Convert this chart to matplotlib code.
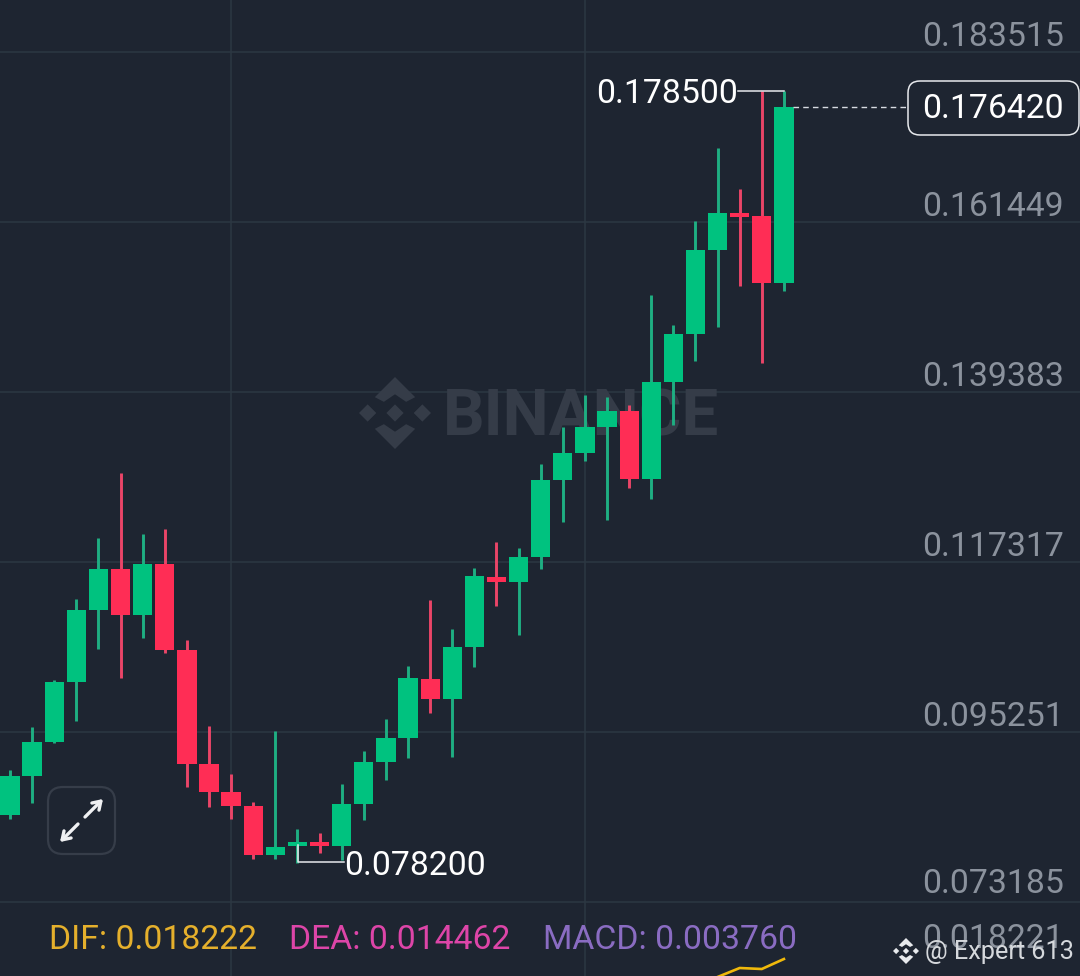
import matplotlib
matplotlib.use('Agg')
import matplotlib.pyplot as plt
from matplotlib.patches import FancyBboxPatch, Polygon

# candle values
opens = [0.08448, 0.08954, 0.09395, 0.10174, 0.11109, 0.11641, 0.11044, 0.11706, 0.10590, 0.09110,
         0.08746, 0.08565, 0.07929, 0.08039, 0.08097, 0.08045, 0.08591, 0.09136, 0.09447, 0.10213,
         0.09953, 0.10628, 0.11537, 0.11472, 0.11797, 0.12796, 0.13147, 0.13484, 0.13692, 0.12809,
         0.14068, 0.14691, 0.15782, 0.16262, 0.16223, 0.15353]
highs = [0.09032, 0.09590, 0.10200, 0.11251, 0.12043, 0.12887, 0.12095, 0.12160, 0.10719, 0.09603,
         0.08980, 0.08617, 0.09538, 0.08266, 0.08214, 0.08850, 0.09278, 0.09694, 0.10382, 0.11239,
         0.10862, 0.11654, 0.11991, 0.11913, 0.13004, 0.13484, 0.13899, 0.13873, 0.13770, 0.15197,
         0.14808, 0.16158, 0.17105, 0.16573, 0.17850, 0.17850]
lows = [0.08396, 0.08604, 0.09382, 0.09668, 0.10603, 0.10226, 0.10745, 0.10551, 0.08811, 0.08552,
        0.08396, 0.07877, 0.07877, 0.07820, 0.07955, 0.07864, 0.08383, 0.08902, 0.09188, 0.09772,
        0.09201, 0.10369, 0.11161, 0.10784, 0.11641, 0.12251, 0.13043, 0.12277, 0.12692, 0.12550,
        0.13510, 0.14341, 0.14782, 0.15314, 0.14315, 0.15249]
closes = [0.08954, 0.09395, 0.10174, 0.11109, 0.11641, 0.11044, 0.11706, 0.10590, 0.09110, 0.08746,
          0.08565, 0.07929, 0.08032, 0.08097, 0.08039, 0.08591, 0.09136, 0.09447, 0.10226, 0.09953,
          0.10628, 0.11550, 0.11472, 0.11797, 0.12796, 0.13147, 0.13484, 0.13692, 0.12809, 0.14068,
          0.14691, 0.15782, 0.16262, 0.16216, 0.15353, 0.17642]

# DIF line in the lower panel, last four candles
dif_index = [32, 33, 34, 35]
dif_values = [0.016422, 0.017322, 0.017222, 0.018222]

price_ticks = [0.183515, 0.161449, 0.139383, 0.117317, 0.095251, 0.073185]
price_labels = ['0.183515', '0.161449', '0.139383', '0.117317', '0.095251', '0.073185']
grid_candles = [10, 26]

bg = '#1e2531'
grid = '#2c3843'
up = '#00c27f'
down = '#ff2d55'
up_wick = '#1fae82'
down_wick = '#ea4568'
gray = '#8b929d'
font = 'Roboto'
size = 24.3


def logo(ax, cx, cy, r, color):
    # the diamond mark, r is half the width in pixels
    d = 0.24
    for mx in [-0.76, 0, 0.76]:
        pts = [(mx, -d), (mx + d, 0), (mx, d), (mx - d, 0)]
        ax.add_patch(Polygon([(cx + a * r, cy + b * r) for a, b in pts], fc=color, ec='none'))
    for s in [-1, 1]:
        pts = [(0, -1), (0.56, -0.44), (0.31, -0.31), (0, -0.52), (-0.31, -0.31), (-0.56, -0.44)]
        ax.add_patch(Polygon([(cx + a * r, cy + s * b * r) for a, b in pts], fc=color, ec='none'))


fig = plt.figure(figsize=(10.8, 9.76), dpi=100, facecolor=bg)

# candle panel, whole figure, scale set from the gridlines
ax = fig.add_axes([0, 0, 1, 1], facecolor=bg)
ax.set_xlim(-0.452, 48.39)
ax.set_ylim(0.06358, 0.190265)
ax.axis('off')

for t in price_ticks:
    ax.axhline(t, color=grid, lw=1.1, zorder=1)
for c in grid_candles:
    ax.axvline(c, color=grid, lw=1.1, zorder=1)

# watermark sits behind the candles
ax.text(0.4105, 0.5717, 'BINANCE', transform=ax.transAxes, color='#353c48', fontsize=47,
        fontweight='bold', family=font, ha='left', va='center', zorder=2)

for i in range(len(opens)):
    rising = closes[i] >= opens[i]
    body = up if rising else down
    wick = up_wick if rising else down_wick
    ax.vlines(i, lows[i], highs[i], color=wick, lw=2.1, zorder=3)
    ax.bar(i, abs(closes[i] - opens[i]), bottom=min(opens[i], closes[i]), width=0.87,
           color=body, lw=0, zorder=4)

# lower panel
ax2 = fig.add_axes([0, 0, 1, 74 / 976], facecolor='none')
ax2.set_xlim(-0.452, 48.39)
ax2.set_ylim(0.016522, 0.023922)
ax2.axis('off')
ax2.plot(dif_index, dif_values, color='#f0b90b', lw=1.9)

# top layer in pixel coordinates for the labels
over = fig.add_axes([0, 0, 1, 1], facecolor='none')
over.set_xlim(0, 1080)
over.set_ylim(976, 0)
over.axis('off')

# watermark logo
logo(over, 395, 413, 36, '#353c48')

# price labels
label_y = [37, 207, 377, 547, 717, 884]
for y, s in zip(label_y, price_labels):
    over.text(1064, y, s, color=gray, fontsize=size, family=font, ha='right', va='center')
over.text(1064, 939, '0.018221', color=gray, fontsize=size, family=font, ha='right', va='center')

# last price box
over.plot([793, 908], [107, 107], color='#d8dce2', lw=1, dashes=(4, 3))
over.add_patch(FancyBboxPatch((908, 81), 171, 54, boxstyle='round,pad=0,rounding_size=12',
                              fc=bg, ec='#e8eaed', lw=1.1))
over.text(1064, 109, '0.176420', color='white', fontsize=size, family=font, ha='right', va='center')

# high and low markers
over.plot([738, 784], [91, 91], color='#e8eaed', lw=1.1)
over.text(738, 94, '0.178500', color='white', fontsize=size, family=font, ha='right', va='center')
over.plot([298, 298, 344], [845, 862, 862], color='#e8eaed', lw=1.1)
over.text(344, 866, '0.078200', color='white', fontsize=size, family=font, ha='left', va='center')

# indicator legend
over.text(49, 940, 'DIF: 0.018222', color='#e5b02c', fontsize=size, family=font, ha='left', va='center')
over.text(289, 940, 'DEA: 0.014462', color='#dd45a8', fontsize=size, family=font, ha='left', va='center')
over.text(543, 940, 'MACD: 0.003760', color='#8a6cc2', fontsize=size, family=font, ha='left', va='center')

# footer
logo(over, 906, 951, 13, '#e8eaed')
over.text(925, 952, '@ Expert 613', color='#d5d8dc', fontsize=18.2, family=font, ha='left', va='center')

# expand button
over.add_patch(FancyBboxPatch((48, 787), 67, 67, boxstyle='round,pad=0,rounding_size=15',
                              fc=bg, ec='#363d49', lw=1.6))
arrow = dict(arrowstyle='->,head_width=0.36,head_length=0.55', color='#f0f1f3', lw=2.4, shrinkA=0, shrinkB=0)
over.annotate('', xy=(103, 799), xytext=(85, 817), arrowprops=arrow)
over.annotate('', xy=(60, 842), xytext=(78, 824), arrowprops=arrow)

fig.savefig('out.png', dpi=100, facecolor=bg)
